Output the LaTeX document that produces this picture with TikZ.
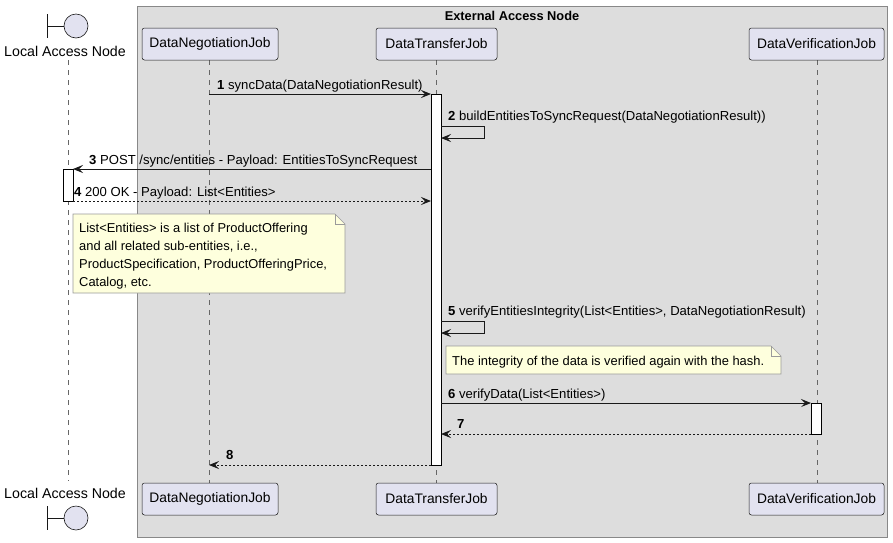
\documentclass[tikz,border=0pt]{standalone}
\usepackage{fontspec}
\setmainfont{Liberation Sans}
\usetikzlibrary{arrows.meta}
\definecolor{boxbg}{HTML}{DDDDDD}
\definecolor{boxline}{HTML}{888888}
\definecolor{partfill}{HTML}{E2E2F0}
\definecolor{partline}{HTML}{181818}
\definecolor{notefill}{HTML}{FEFFDD}
\definecolor{noteline}{HTML}{9A9A9A}
\definecolor{lifecol}{HTML}{666666}
\tikzset{
  participant/.style={draw=partline, line width=0.5pt, fill=partfill, rounded corners=2.5pt,
    minimum height=32pt, inner sep=0pt, font=\fontsize{13.8}{16}\selectfont},
  lifeline/.style={draw=lifecol, line width=0.5pt, dash pattern=on 5pt off 5pt},
  activation/.style={draw=black, line width=0.8pt, fill=white},
  msgtip/.style={-{Stealth[length=10pt,width=8pt,inset=4pt]}},
  msg/.style={msgtip, draw=black!90, line width=0.9pt},
  reply/.style={msgtip, draw=black!90, line width=0.9pt, dash pattern=on 2pt off 2pt},
  msglabel/.style={anchor=base west, inner sep=0pt, font=\fontsize{13.1}{15}\selectfont},
  notebox/.style={draw=noteline, line width=0.6pt, fill=notefill},
  notetext/.style={anchor=north west, inner sep=0pt, align=left, font=\fontsize{12.9}{18}\selectfont},
  actorlabel/.style={inner sep=0pt, font=\fontsize{14.2}{16}\selectfont},
  boundary/.style={draw=partline, line width=0.6pt},
}
\newcommand{\num}[1]{\textbf{#1}}
\begin{document}
\begin{tikzpicture}[x=1pt,y=-1pt]
\useasboundingbox[fill=white] (0,0) rectangle (893,542);

% grouping box for the external node
\draw[fill=boxbg, draw=boxline, line width=0.8pt] (137,6) rectangle (887.5,537);
\node[font=\bfseries\fontsize{12.8}{14}\selectfont, inner sep=0pt] (grp) at (512,16) {External Access Node};

% lifelines
\coordinate (lanT) at (68,60);  \coordinate (lanB) at (68,481);
\coordinate (dnT) at (209,60);  \coordinate (dnB) at (209,483);
\coordinate (dtT) at (436,60);  \coordinate (dtB) at (436,483);
\coordinate (dvT) at (817,60);  \coordinate (dvB) at (817,483);
\draw[lifeline] (lanT) -- (lanB);
\draw[lifeline] (dnT) -- (dnB);
\draw[lifeline] (dtT) -- (dtB);
\draw[lifeline] (dvT) -- (dvB);

% participant heads and feet
\node[participant, minimum width=136pt] (dnTop) at (210,44) {DataNegotiationJob};
\node[participant, minimum width=121pt] (dtTop) at (436.5,44) {DataTransferJob};
\node[participant, minimum width=135pt] (dvTop) at (816.5,44) {DataVerificationJob};
\node[participant, minimum width=136pt] (dnBot) at (210,499) {DataNegotiationJob};
\node[participant, minimum width=121pt] (dtBot) at (436.5,499) {DataTransferJob};
\node[participant, minimum width=135pt] (dvBot) at (816.5,499) {DataVerificationJob};

% boundary actor, top
\draw[boundary] (47.5,14) -- (47.5,38);
\draw[boundary] (47.5,26) -- (64,26);
\node[circle, draw=partline, line width=0.6pt, fill=partfill, minimum size=24pt, inner sep=0pt] (lanCircT) at (76,26) {};
\node[actorlabel] (lanTop) at (65,51) {Local Access Node};
% boundary actor, bottom
\node[actorlabel] (lanBot) at (65,493) {Local Access Node};
\draw[boundary] (47.5,506) -- (47.5,530);
\draw[boundary] (47.5,518) -- (64,518);
\node[circle, draw=partline, line width=0.6pt, fill=partfill, minimum size=24pt, inner sep=0pt] (lanCircB) at (76,518) {};

% activation bars
\draw[activation] (431,94) rectangle (441,465);
\draw[activation] (63,169) rectangle (73,201);
\draw[activation] (811,403) rectangle (821,434);

% 1
\coordinate (m1a) at (209,94); \coordinate (m1b) at (431,94);
\draw[msg] (m1a) -- (m1b);
\node[msglabel] (l1) at (217,89) {\num{1} syncData(DataNegotiationResult)};

% 2 (self call)
\coordinate (m2a) at (441,126); \coordinate (m2c) at (441,138);
\draw[msg] (m2a) -- (484,126) -- (484,138) -- (m2c);
\node[msglabel] (l2) at (448,120) {\num{2} buildEntitiesToSyncRequest(DataNegotiationResult))};

% 3
\coordinate (m3a) at (431,169); \coordinate (m3b) at (73,169);
\draw[msg] (m3a) -- (m3b);
\node[msglabel] (l3) at (89,164) {\num{3} POST /sync/entities - Payload: EntitiesToSyncRequest};

% 4
\coordinate (m4a) at (73,201); \coordinate (m4b) at (431,201);
\draw[reply] (m4a) -- (m4b);
\node[msglabel] (l4) at (74,196) {\num{4} 200 OK - Payload: List<Entities>};

% note on entities
\draw[notebox] (73,214) -- (335,214) -- (345,224) -- (345,293) -- (73,293) -- cycle;
\draw[draw=noteline, line width=0.6pt] (335,214) -- (335,224) -- (345,224);
\node[notetext] (n1) at (79,222.5) {List<Entities> is a list of ProductOffering\\and all related sub-entities, i.e.,\\ProductSpecification, ProductOfferingPrice,\\Catalog, etc.};

% 5 (self call)
\coordinate (m5a) at (441,321); \coordinate (m5c) at (441,333);
\draw[msg] (m5a) -- (484,321) -- (484,333) -- (m5c);
\node[msglabel] (l5) at (448,315) {\num{5} verifyEntitiesIntegrity(List<Entities>, DataNegotiationResult)};

% note on hash check
\draw[notebox] (446,346) -- (771,346) -- (781,356) -- (781,374) -- (446,374) -- cycle;
\draw[draw=noteline, line width=0.6pt] (771,346) -- (771,356) -- (781,356);
\node[notetext] (n2) at (452,356) {The integrity of the data is verified again with the hash.};

% 6
\coordinate (m6a) at (441,403); \coordinate (m6b) at (811,403);
\draw[msg] (m6a) -- (m6b);
\node[msglabel] (l6) at (448,398) {\num{6} verifyData(List<Entities>)};

% 7
\coordinate (m7a) at (811,434); \coordinate (m7b) at (441,434);
\draw[reply] (m7a) -- (m7b);
\node[msglabel] (l7) at (457,428) {\num{7}};

% 8
\coordinate (m8a) at (431,465); \coordinate (m8b) at (209,465);
\draw[reply] (m8a) -- (m8b);
\node[msglabel] (l8) at (226,459) {\num{8}};
\end{tikzpicture}
\end{document}
